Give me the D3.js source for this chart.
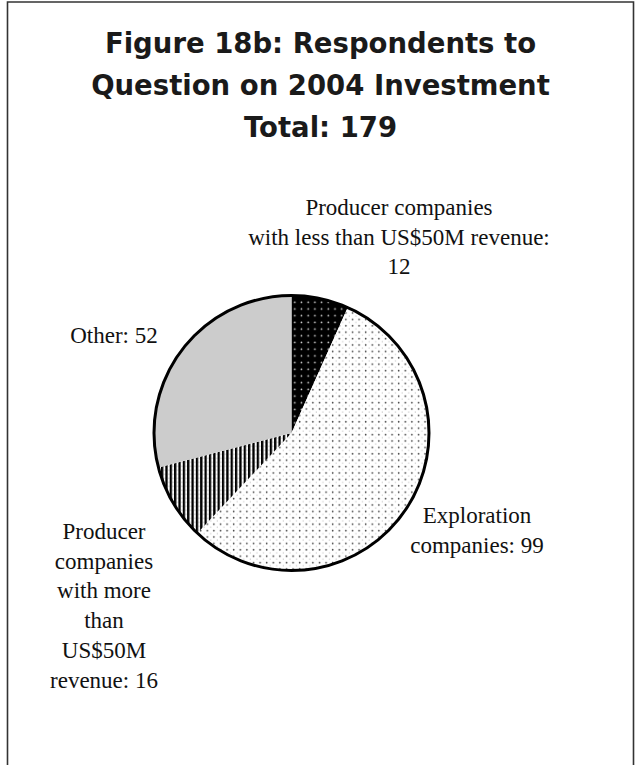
<!DOCTYPE html>
<html>
<head>
<meta charset="utf-8">
<script src="https://cdn.jsdelivr.net/npm/d3@7"></script>
<style>
  html, body { margin: 0; padding: 0; background: #fff; }
  svg { display: block; }
</style>
</head>
<body>
<svg id="chart" width="635" height="765"></svg>
<script>
// Respondents by company type
const categories = [
  "Producer companies with less than US$50M revenue",
  "Exploration companies",
  "Producer companies with more than US$50M revenue",
  "Other"
];
const values = [12, 99, 16, 52];
const fills = ["url(#pat-dark)", "url(#pat-light)", "url(#pat-stripe)", "#cccccc"];

const titleLines = [
  "Figure 18b: Respondents to",
  "Question on 2004 Investment",
  "Total: 179"
];

// Label lines per slice (the last line carries the value)
const labelLines = [
  ["Producer companies", "with less than US$50M revenue:", String(values[0])],
  ["Exploration", "companies: " + values[1]],
  ["Producer", "companies", "with more", "than", "US$50M", "revenue: " + values[2]],
  ["Other: " + values[3]]
];

const svg = d3.select("#chart");

// frame
svg.append("path")
  .attr("d", "M7.5,770 V2 H633.5 V770")
  .attr("fill", "none")
  .attr("stroke", "#333")
  .attr("stroke-width", 1.6);

// fill patterns
const defs = svg.append("defs");

const pDark = defs.append("pattern").attr("id", "pat-dark")
  .attr("patternUnits", "userSpaceOnUse").attr("width", 6.7).attr("height", 6.7);
pDark.append("rect").attr("width", 6.7).attr("height", 6.7).attr("fill", "#000");
pDark.append("circle").attr("cx", 3.3).attr("cy", 3.3).attr("r", 0.85).attr("fill", "#d8d8d8");

const pLight = defs.append("pattern").attr("id", "pat-light")
  .attr("patternUnits", "userSpaceOnUse").attr("width", 6.6).attr("height", 6.4);
pLight.append("rect").attr("width", 6.6).attr("height", 6.4).attr("fill", "#fff");
pLight.append("circle").attr("cx", 1.6).attr("cy", 1.6).attr("r", 0.85).attr("fill", "#444");
pLight.append("rect").attr("x", 4.6).attr("y", 4.0).attr("width", 0.6).attr("height", 1.4).attr("fill", "#aaa");

const pStripe = defs.append("pattern").attr("id", "pat-stripe")
  .attr("patternUnits", "userSpaceOnUse").attr("width", 4.35).attr("height", 4);
pStripe.append("rect").attr("width", 4.35).attr("height", 4).attr("fill", "#fff");
pStripe.append("rect").attr("x", 0).attr("width", 2.3).attr("height", 4).attr("fill", "#000");
pStripe.append("rect").attr("x", 3.2).attr("y", 0.5).attr("width", 0.5).attr("height", 1.6).attr("fill", "#aaa");

// title
const title = svg.append("text")
  .attr("text-anchor", "middle")
  .attr("font-family", "'DejaVu Sans', sans-serif")
  .attr("font-weight", 700)
  .attr("font-size", 27.5)
  .attr("fill", "#1a1a1a");
titleLines.forEach((t, i) => {
  title.append("tspan").attr("x", 320.5).attr("y", 53 + i * 42).text(t);
});

// pie
const cx = 291.5, cy = 433, r = 137.5;
const pie = d3.pie().sort(null).value(d => d)(values);
const arc = d3.arc().innerRadius(0).outerRadius(r);

const g = svg.append("g").attr("transform", `translate(${cx},${cy})`);
g.selectAll("path.slice")
  .data(pie)
  .join("path")
  .attr("class", "slice")
  .attr("d", arc)
  .attr("fill", (d, i) => fills[i]);

g.append("circle")
  .attr("r", r)
  .attr("fill", "none")
  .attr("stroke", "#000")
  .attr("stroke-width", 3);

// slice labels
const labelPos = [
  { x: 399, y: 215 },
  { x: 477, y: 523 },
  { x: 104, y: 539 },
  { x: 114, y: 343 }
];
const lineH = 29.7;

labelLines.forEach((lines, i) => {
  const t = svg.append("text")
    .attr("text-anchor", "middle")
    .attr("font-family", "'Liberation Serif', 'Times New Roman', serif")
    .attr("font-size", 23)
    .attr("fill", "#111");
  lines.forEach((s, j) => {
    t.append("tspan").attr("x", labelPos[i].x).attr("y", labelPos[i].y + j * lineH).text(s);
  });
});
</script>
</body>
</html>
